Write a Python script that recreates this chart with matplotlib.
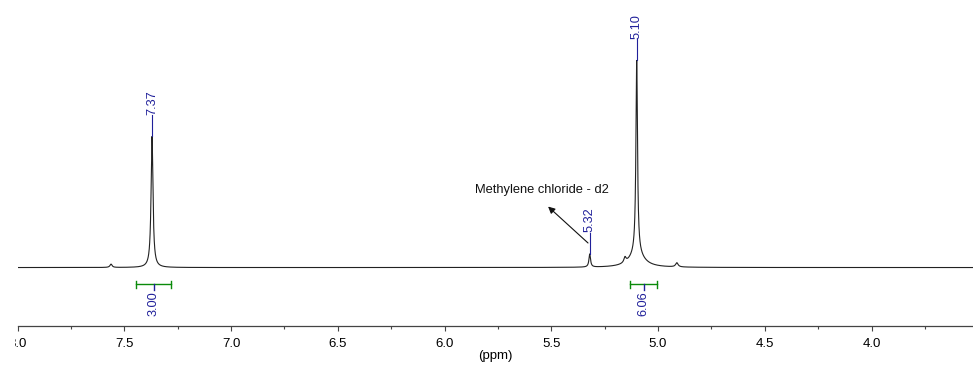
import numpy as np
import matplotlib
matplotlib.use("Agg")
import matplotlib.pyplot as plt
from matplotlib.ticker import MultipleLocator
from matplotlib.transforms import Bbox

plt.rcParams['font.family'] = ['Liberation Sans', 'DejaVu Sans']

# ---- data ----
peak_ppm = [7.562, 7.370, 5.320, 5.155, 5.100, 5.100, 4.912]
peak_height = [1.6, 63.0, 6.3, 2.5, 93.0, 6.5, 2.0]
peak_hwhm = [0.006, 0.0053, 0.0045, 0.006, 0.0044, 0.04, 0.007]

label_ppm = [7.37, 5.32, 5.10]
label_text = ["7.37", "5.32", "5.10"]

integral_start = [7.443, 5.131]
integral_end = [7.281, 5.003]
integral_value = ["3.00", "6.06"]

solvent_text = "Methylene chloride - d2"

x_label = "(ppm)"

# ---- spectrum ----
ppm = np.linspace(8.0, 3.5, 9001)
intensity = np.zeros_like(ppm)
for p, h, g in zip(peak_ppm, peak_height, peak_hwhm):
    intensity += h * g**2 / (g**2 + (ppm - p)**2)

fig = plt.figure(figsize=(9.73, 3.69), dpi=100)
ax = fig.add_axes([17.5/973, (369-326)/369, 1 - 17.5/973, 326/369])
ax.plot(ppm, intensity, color='#222222', lw=0.8)
ax.set_xlim(8.0, 3.525)
ax.set_ylim(-28.1, 128.6)

navy = '#20209a'
green = '#0a8a0a'

def height_at(x):
    return np.interp(x, ppm[::-1], intensity[::-1])

# peak labels
for lp, lt in zip(label_ppm, label_text):
    top = height_at(lp)
    ax.plot([lp, lp], [top, top + 10.2], color=navy, lw=0.8)
    ax.text(lp, top + 10.4, lt, rotation=90, ha='center', va='bottom',
            color=navy, fontsize=9.2)

# integrals
for s, e, v in zip(integral_start, integral_end, integral_value):
    yb = -8.0
    ax.plot([s, e], [yb, yb], color=green, lw=1.0)
    ax.plot([s, s], [yb - 1.6, yb + 1.6], color=green, lw=1.0)
    ax.plot([e, e], [yb - 1.6, yb + 1.6], color=green, lw=1.0)
    c = (s + e) / 2
    ax.plot([c, c], [yb, yb - 3.0], color=navy, lw=1.0)
    ax.text(c, yb - 3.6, v, rotation=90, ha='center', va='top',
            color=navy, fontsize=9.2)

# solvent annotation
ax.annotate("", xy=(5.515, 29.3), xytext=(5.328, 11.8),
            arrowprops=dict(arrowstyle='-|>', color='#111111', lw=0.8,
                            mutation_scale=10, shrinkA=0, shrinkB=0))
ax.text(5.546, 37.3, solvent_text, ha='center', va='center',
        fontsize=9.3, color='#111111')

# axes styling
for sp in ['left', 'top', 'right']:
    ax.spines[sp].set_visible(False)
ax.spines['bottom'].set_color('#444444')
ax.spines['bottom'].set_linewidth(0.9)
ax.set_yticks([])
ax.xaxis.set_major_locator(MultipleLocator(0.5))
ax.xaxis.set_minor_locator(MultipleLocator(0.25))
ax.xaxis.set_major_formatter(matplotlib.ticker.FormatStrFormatter('%.1f'))
ax.tick_params(axis='x', which='major', length=3.8, width=0.8, color='#444444',
               labelsize=9.5, pad=4.5)
ax.tick_params(axis='x', which='minor', length=2.2, width=0.8, color='#444444')
ax.set_xlabel(x_label, fontsize=9.5, labelpad=0.5)

# the leftmost tick label is cut by the left edge in the reference
fig.canvas.draw()
clip = Bbox.from_extents(15.0, 0, 973, 369)
for lab in ax.get_xticklabels():
    if lab.get_text() == '8.0':
        lab.set_clip_box(clip)
        lab.set_clip_on(True)

fig.savefig("out.png", dpi=100)
